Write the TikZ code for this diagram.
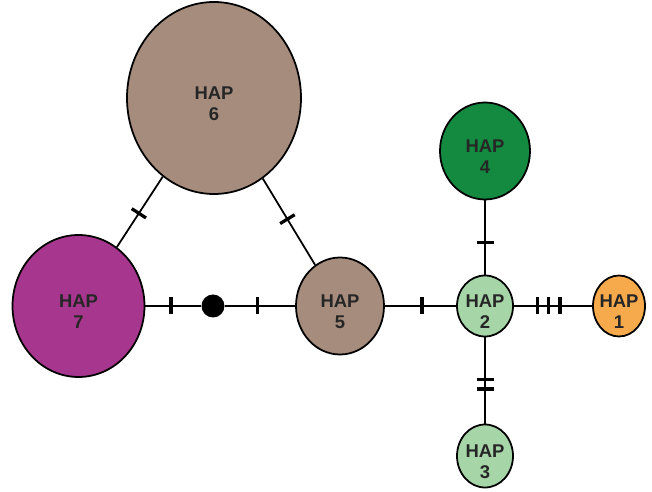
\documentclass[tikz,border=0pt]{standalone}
\usepackage{fontspec}
\setsansfont{Liberation Sans}
\usepackage{xcolor}
\definecolor{hapbrown}{HTML}{A58C7D}
\definecolor{hapmagenta}{HTML}{A7368E}
\definecolor{hapgreen}{HTML}{138A3F}
\definecolor{haplight}{HTML}{A6D5A8}
\definecolor{haporange}{HTML}{F6AA4C}
\usepackage{tikz}
\usetikzlibrary{shapes.geometric}

\tikzset{
  hap/.style={ellipse, draw=black, line width=1pt, inner sep=0pt},
  haptext/.style={align=center, inner sep=0pt, yshift=-0.12cm,
    font=\sffamily\bfseries\fontsize{10.5}{12}\selectfont, text=black!85},
  mut/.style={fill=black, inner sep=0pt, minimum width=0.065cm, minimum height=0.34cm, sloped},
  link/.style={line width=1pt}
}

\begin{document}
\begin{tikzpicture}

  \useasboundingbox (0,0) rectangle (13.04,9.84);

  % haplotypes
  \node[hap, fill=hapbrown, minimum width=3.48cm, minimum height=3.84cm,
    label={[haptext]center:HAP\\6}] (hapsix) at (4.28,7.88) {};
  \node[hap, fill=hapmagenta, minimum width=2.64cm, minimum height=2.84cm,
    label={[haptext]center:HAP\\7}] (hapseven) at (1.57,3.72) {};
  \node[circle, fill=black, minimum size=0.46cm, inner sep=0pt] (medv) at (4.26,3.72) {};
  \node[hap, fill=hapbrown, minimum width=1.76cm, minimum height=1.94cm,
    label={[haptext]center:HAP\\5}] (hapfive) at (6.80,3.72) {};
  \node[hap, fill=haplight, minimum width=1.12cm, minimum height=1.22cm,
    label={[haptext]center:HAP\\2}] (haptwo) at (9.70,3.72) {};
  \node[hap, fill=hapgreen, minimum width=1.80cm, minimum height=1.94cm,
    label={[haptext]center:HAP\\4}] (hapfour) at (9.70,6.82) {};
  \node[hap, fill=haporange, minimum width=1.04cm, minimum height=1.22cm,
    label={[haptext]center:HAP\\1}] (hapone) at (12.38,3.72) {};
  \node[hap, fill=haplight, minimum width=1.12cm, minimum height=1.26cm,
    label={[haptext]center:HAP\\3}] (hapthree) at (9.70,0.72) {};

  % links with mutation steps
  \draw[link] (hapsix) -- node[mut, pos=0.52] {} (hapseven);
  \draw[link] (hapsix) -- node[mut, pos=0.47] {} (hapfive);
  \draw[link] (hapseven) -- node[mut, pos=0.46] {} (medv);
  \draw[link] (medv) -- node[mut, pos=0.46] {} (hapfive);
  \draw[link] (hapfive) -- node[mut, pos=0.52] {} (haptwo);
  \draw[link] (haptwo) -- node[mut, pos=0.30] {} node[mut, pos=0.44] {} node[mut, pos=0.59] {} (hapone);
  \draw[link] (hapfour) -- node[mut, pos=0.57] {} (haptwo);
  \draw[link] (haptwo) -- node[mut, pos=0.49] {} node[mut, pos=0.60] {} (hapthree);

\end{tikzpicture}
\end{document}
